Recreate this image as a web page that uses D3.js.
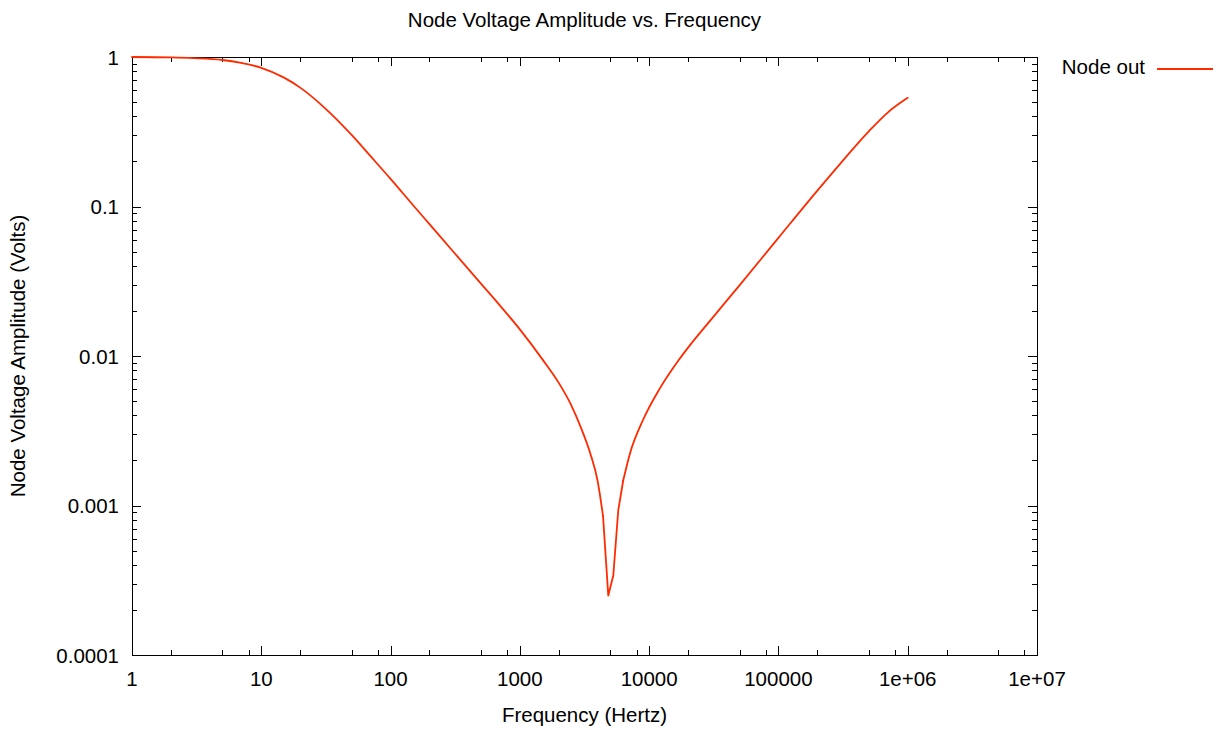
<!DOCTYPE html>
<html lang="en">
<head>
    <meta charset="UTF-8">
    <title>Node Voltage Amplitude vs. Frequency</title>
    <script src="https://d3js.org/d3.v7.min.js"></script>
    <style>
        body {
            margin: 0;
            padding: 0;
            background: #fff;
            overflow: hidden;
        }
        svg {
            display: block;
            font-family: "Liberation Sans", Arial, Helvetica, sans-serif;
            font-size: 20.5px;
        }
        .frame {
            fill: none;
            stroke: #000;
            stroke-width: 1;
        }
        .tick {
            stroke: #000;
            stroke-width: 1;
        }
    </style>
</head>
<body>
    <svg id="chart" width="1225" height="730"></svg>

    <script>
        // frequency points (Hz) and node amplitude (V)
        const frequency = [1, 2, 3, 5, 7, 10, 15, 20, 30, 50, 70, 100, 150, 200, 300, 500, 700,
            1000, 1500, 2000, 2500, 3000, 3500, 4000, 4400, 4650, 4830, 5280, 5770, 6300, 7100,
            9000, 12000, 17000, 20000, 30000, 50000, 100000, 200000, 300000, 500000, 700000, 1000000];
        const amplitude = [1.0, 0.993, 0.982, 0.955, 0.912, 0.847, 0.728, 0.624, 0.468, 0.301, 0.217,
            0.153, 0.1016, 0.0762, 0.0508, 0.0305, 0.0218, 0.01507, 0.00946, 0.00661, 0.00468, 0.00324,
            0.00224, 0.00145, 0.00085, 0.00041, 0.00025, 0.00034, 0.00093, 0.00147, 0.00222,
            0.00376, 0.0060, 0.00944, 0.01138, 0.01746, 0.0297, 0.0617, 0.1277, 0.193, 0.318, 0.425, 0.533];

        // the notch is drawn with straight segments between these two frequencies
        const notchStart = 4400, notchEnd = 6300;

        const xTickValues = [1, 10, 100, 1000, 10000, 100000, 1000000, 10000000];
        const xTickLabels = ["1", "10", "100", "1000", "10000", "100000", "1e+06", "1e+07"];
        const yTickValues = [0.0001, 0.001, 0.01, 0.1, 1];
        const yTickLabels = ["0.0001", "0.001", "0.01", "0.1", "1"];
        const xMinorSteps = [2, 5, 8];
        const yMinorSteps = [2, 3, 4, 5, 6, 7, 8, 9];

        const seriesName = "Node out";
        const lineColor = "#ff2a00";

        const margin = { left: 132, right: 188, top: 57, bottom: 75 };
        const width = 1225, height = 730;
        const innerW = width - margin.left - margin.right;
        const innerH = height - margin.top - margin.bottom;

        const svg = d3.select("#chart");

        const x = d3.scaleLog().domain([1, 1e7]).range([margin.left, margin.left + innerW]);
        const y = d3.scaleLog().domain([1e-4, 1]).range([margin.top + innerH, margin.top]);

        const g = svg.append("g");

        // tick marks on all four sides, pointing inward
        const majorLen = 9, minorLen = 5;
        const plotTop = margin.top, plotBottom = margin.top + innerH;
        const plotLeft = margin.left, plotRight = margin.left + innerW;

        const xMinor = [];
        xTickValues.slice(0, -1).forEach(d => xMinorSteps.forEach(s => xMinor.push(d * s)));
        const yMinor = [];
        yTickValues.slice(0, -1).forEach(d => yMinorSteps.forEach(s => yMinor.push(d * s)));

        function xTicks(vals, len) {
            vals.forEach(v => {
                const px = Math.round(x(v)) + 0.5;
                g.append("line").attr("class", "tick")
                    .attr("x1", px).attr("x2", px).attr("y1", plotBottom).attr("y2", plotBottom - len);
                g.append("line").attr("class", "tick")
                    .attr("x1", px).attr("x2", px).attr("y1", plotTop).attr("y2", plotTop + len);
            });
        }
        function yTicks(vals, len) {
            vals.forEach(v => {
                const py = Math.round(y(v)) + 0.5;
                g.append("line").attr("class", "tick")
                    .attr("x1", plotLeft).attr("x2", plotLeft + len).attr("y1", py).attr("y2", py);
                g.append("line").attr("class", "tick")
                    .attr("x1", plotRight).attr("x2", plotRight - len).attr("y1", py).attr("y2", py);
            });
        }
        xTicks(xTickValues, majorLen);
        xTicks(xMinor, minorLen);
        yTicks(yTickValues, majorLen);
        yTicks(yMinor, minorLen);

        g.append("rect").attr("class", "frame")
            .attr("x", plotLeft + 0.5).attr("y", plotTop + 0.5)
            .attr("width", innerW).attr("height", innerH);

        // tick labels
        g.selectAll(".xlab").data(xTickValues).enter().append("text")
            .attr("x", d => x(d)).attr("y", plotBottom + 30.5)
            .attr("text-anchor", "middle")
            .text((d, i) => xTickLabels[i]);

        g.selectAll(".ylab").data(yTickValues).enter().append("text")
            .attr("x", plotLeft - 13).attr("y", d => y(d) + 7.5)
            .attr("text-anchor", "end")
            .text((d, i) => yTickLabels[i]);

        // titles
        svg.append("text")
            .attr("x", (plotLeft + plotRight) / 2).attr("y", 27)
            .attr("text-anchor", "middle")
            .text("Node Voltage Amplitude vs. Frequency");

        svg.append("text")
            .attr("x", (plotLeft + plotRight) / 2).attr("y", 722)
            .attr("text-anchor", "middle")
            .text("Frequency (Hertz)");

        svg.append("text")
            .attr("transform", `translate(24.5, ${(plotTop + plotBottom) / 2}) rotate(-90)`)
            .attr("text-anchor", "middle")
            .text("Node Voltage Amplitude (Volts)");

        // data line: smooth outside the notch, straight segments inside it
        const data = frequency.map((f, i) => ({ f: f, v: amplitude[i] }));
        const smooth = d3.line().x(d => x(d.f)).y(d => y(d.v)).curve(d3.curveMonotoneX);
        const straight = d3.line().x(d => x(d.f)).y(d => y(d.v));

        const parts = [
            { pts: data.filter(d => d.f <= notchStart), gen: smooth },
            { pts: data.filter(d => d.f >= notchStart && d.f <= notchEnd), gen: straight },
            { pts: data.filter(d => d.f >= notchEnd), gen: smooth }
        ];
        const series = svg.append("g")
            .attr("fill", "none")
            .attr("stroke", lineColor)
            .attr("stroke-width", 1.8)
            .attr("stroke-linejoin", "round")
            .attr("stroke-linecap", "round");
        parts.forEach(p => series.append("path").datum(p.pts).attr("d", p.gen));

        // legend
        svg.append("text")
            .attr("x", 1145).attr("y", 73.5)
            .attr("text-anchor", "end")
            .text(seriesName);
        svg.append("line")
            .attr("x1", 1157).attr("x2", 1213).attr("y1", 69).attr("y2", 69)
            .attr("stroke", lineColor).attr("stroke-width", 1.8);
    </script>
</body>
</html>
